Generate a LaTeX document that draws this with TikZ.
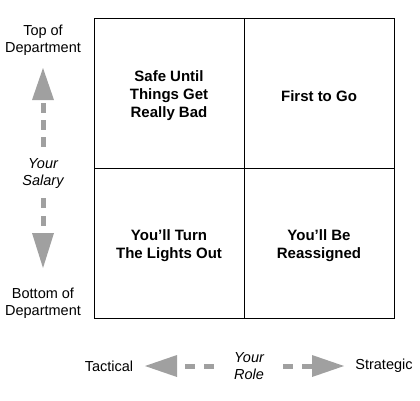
\documentclass[tikz,border=0pt]{standalone}
\usepackage{fontspec}
\setmainfont{Liberation Sans}
\definecolor{arrgray}{RGB}{160,160,160}
\newcommand{\apos}{{\char"27}}
\begin{document}
\begin{tikzpicture}[x=1pt,y=-1pt,
  lbl/.style={font=\fontsize{14.5}{17}\selectfont, align=center, inner sep=0pt},
  ilbl/.style={font=\fontsize{14.5}{17}\selectfont\itshape, align=center, inner sep=0pt},
  quad/.style={font=\fontsize{15}{18}\selectfont\bfseries, align=center, inner sep=0pt},
  ahead/.style={fill=arrgray, draw=none},
  dashseg/.style={draw=arrgray, line width=5pt}]
\useasboundingbox (0,0) rectangle (420,400);
% grid
\draw[line width=0.8pt] (94.5,18.5) rectangle (394,318);
\draw[line width=0.8pt] (244,18.5) -- (244,318);
\draw[line width=0.8pt] (94.5,168) -- (394,168);
% quadrant texts
\node[quad] (q1) at (169,96) {Safe Until\\Things Get\\Really Bad};
\node[quad] (q2) at (319,96) {First to Go};
\node[quad] (q3) at (169,246) {You\apos ll Turn\\The Lights Out};
\node[quad] (q4) at (319,246) {You\apos ll Be\\Reassigned};
% left labels
\node[lbl] (top) at (43,40.5) {Top of\\Department};
\node[lbl] (bot) at (43,303.5) {Bottom of\\Department};
\node[ilbl] (sal) at (43,174) {Your\\Salary};
% vertical arrow
\fill[ahead] (43,68) -- (54,100) -- (32,100) -- cycle;
\fill[ahead] (43,268) -- (54,233) -- (32,233) -- cycle;
\draw[dashseg] (43,103) -- (43,113);
\draw[dashseg] (43,120) -- (43,130);
\draw[dashseg] (43,137) -- (43,147);
\draw[dashseg] (43,198) -- (43,208);
\draw[dashseg] (43,216) -- (43,226);
% bottom labels
\node[lbl] (tac) at (109,366) {Tactical};
\node[lbl] (str) at (384,366) {Strategic};
\node[ilbl] (role) at (249,366) {Your\\Role};
% horizontal arrow
\fill[ahead] (145,366) -- (177,355) -- (177,377) -- cycle;
\fill[ahead] (344,366) -- (312,355) -- (312,377) -- cycle;
\draw[dashseg] (185,366) -- (195,366);
\draw[dashseg] (204,366) -- (214,366);
\draw[dashseg] (283,366) -- (293,366);
\draw[dashseg] (302,366) -- (312,366);
\end{tikzpicture}
\end{document}
